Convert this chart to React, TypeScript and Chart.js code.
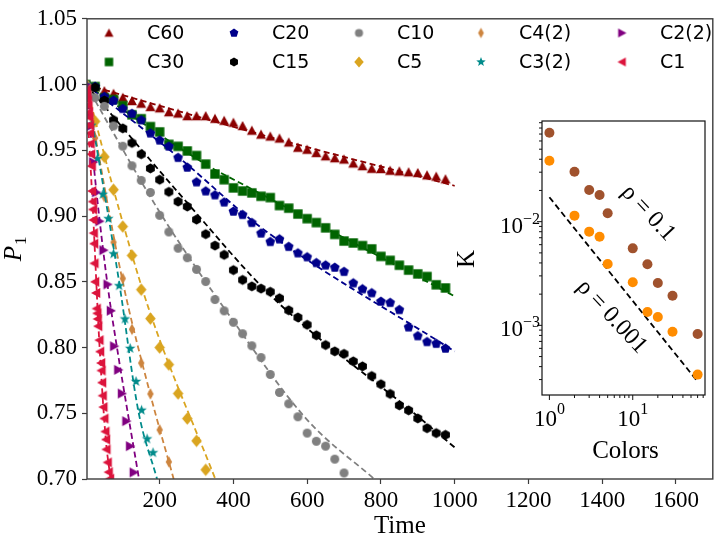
import React, { useEffect, useRef } from 'react';
import { Chart, registerables } from 'chart.js';

Chart.register(...registerables);

const SERIF = '"Liberation Serif", "Times New Roman", "DejaVu Serif", serif';
const SANS = '"DejaVu Sans", "Liberation Sans", sans-serif';

// ---------------- main panel data ----------------
const X_TICKS = [200, 400, 600, 800, 1000, 1200, 1400, 1600];
const Y_TICKS = [0.7, 0.75, 0.8, 0.85, 0.9, 0.95, 1.0, 1.05];

const T_LONG = [0, 25, 50, 75, 100, 125, 150, 175, 200, 225, 250, 275, 300, 325, 350, 375, 400, 425, 450, 475,
  500, 525, 550, 575, 600, 625, 650, 675, 700, 725, 750, 775, 800, 825, 850, 875, 900, 925, 950, 975];

const C60_P = [1.0, 0.998, 0.995, 0.993, 0.99, 0.9875, 0.9855, 0.983, 0.982, 0.979, 0.978, 0.976, 0.976, 0.976, 0.974, 0.9725,
  0.971, 0.9685, 0.965, 0.962, 0.9605, 0.959, 0.956, 0.952, 0.9505, 0.948, 0.9455, 0.944, 0.943, 0.94,
  0.938, 0.936, 0.9358, 0.9345, 0.934, 0.9333, 0.9328, 0.931, 0.93, 0.928];
const C30_P = [1.0, 0.9985, 0.99, 0.9886, 0.984, 0.977, 0.974, 0.968, 0.964, 0.9545, 0.953, 0.9495, 0.946, 0.9395, 0.932,
  0.9276, 0.9214, 0.919, 0.9176, 0.915, 0.914, 0.908, 0.906, 0.9015, 0.898, 0.895, 0.891, 0.886, 0.881, 0.8795,
  0.8775, 0.875, 0.8693, 0.8663, 0.8626, 0.8589, 0.856, 0.854, 0.8477, 0.8453];
const C20_P = [1.0, 0.9985, 0.9908, 0.9879, 0.9816, 0.9779, 0.973, 0.963, 0.9576, 0.953, 0.9444, 0.937, 0.9258, 0.9189, 0.9159,
  0.9105, 0.9035, 0.901, 0.8949, 0.8869, 0.8804, 0.8824, 0.8767, 0.8718, 0.8688, 0.8644, 0.8626, 0.8609, 0.8577, 0.849,
  0.8445, 0.8415, 0.835, 0.8341, 0.8287, 0.8155, 0.8088, 0.8043, 0.803, 0.7993];
const C15_P = [1.0, 0.9978, 0.9879, 0.973, 0.9667, 0.9556, 0.947, 0.9362, 0.9276, 0.9184, 0.911, 0.9072, 0.8973, 0.8862, 0.8775,
  0.8705, 0.8589, 0.8514, 0.8465, 0.8448, 0.8424, 0.8375, 0.8283, 0.8229, 0.8173, 0.8093, 0.8019, 0.7971, 0.7952, 0.7895,
  0.7857, 0.7783, 0.7721, 0.7647, 0.756, 0.7522, 0.7461, 0.7386, 0.7349, 0.7336];
const C10_T = [0, 25, 50, 75, 100, 125, 150, 175, 200, 225, 250, 275, 300, 325, 350, 375, 400, 425, 450, 475,
  500, 525, 550, 575, 600, 625, 650, 675, 700];
const C10_P = [1.0, 0.99, 0.9834, 0.9685, 0.9531, 0.9382, 0.9271, 0.9179, 0.9005, 0.8879, 0.8755, 0.8683, 0.8594, 0.8502, 0.8365,
  0.8279, 0.8192, 0.8105, 0.8013, 0.7924, 0.7795, 0.7658, 0.7572, 0.7473, 0.7349, 0.7287, 0.725, 0.7151, 0.7046];
const C5_T = [0, 25, 50, 75, 100, 125, 150, 175, 200, 225, 250, 275, 300, 325];
const C5_P = [1.0, 0.972, 0.945, 0.92, 0.892, 0.87, 0.844, 0.822, 0.8, 0.787, 0.765, 0.746, 0.729, 0.707];
const C42_T = [0, 25, 50, 75, 100, 125, 150, 175, 200, 225];
const C42_P = [1.0, 0.9593, 0.9147, 0.88, 0.8525, 0.8138, 0.7882, 0.7647, 0.7374, 0.713];
const C32_T = [0, 15, 31, 46, 61, 75, 90, 106, 120, 136, 151, 166, 182];
const C32_P = [1.0, 0.969, 0.9437, 0.9165, 0.898, 0.8713, 0.847, 0.8217, 0.7993, 0.7742, 0.7523, 0.7305, 0.72];
const C22_T = [0, 10, 20, 28, 37, 48, 59, 68, 77, 88, 98, 110, 120, 130];
const C22_P = [1.0, 0.968, 0.941, 0.918, 0.896, 0.874, 0.848, 0.828, 0.801, 0.783, 0.765, 0.744, 0.725, 0.705];
const C1_T = [0, 2, 3.5, 5, 6.5, 8, 9.4, 10.5, 11.3, 12.5, 14, 15.7, 16.7, 18.3, 19, 20.2, 21, 22, 22.9, 24.8,
  27.5, 29.1, 30.5, 31.8, 33, 36.4, 38.3, 41, 42, 43.7, 45.3, 47.2, 49.9, 52.6, 54.4, 55.5, 58.8, 61.5, 65.2];
const C1_P = [1.0, 0.996, 0.992, 0.988, 0.984, 0.979, 0.975, 0.969, 0.963, 0.955, 0.947, 0.938, 0.919, 0.911, 0.905,
  0.897, 0.887, 0.879, 0.864, 0.85, 0.8415, 0.8296, 0.826, 0.8217, 0.8162, 0.8056, 0.7969, 0.7882, 0.7825, 0.7733,
  0.7634, 0.7547, 0.746, 0.7361, 0.73, 0.7225, 0.7126, 0.7052, 0.7002];

// dashed fit curves
const C60_FIT_T = [0, 500, 1000];
const C60_FIT_P = [1.0, 0.96, 0.923];
const C30_FIT_T = [0, 333, 433, 1000];
const C30_FIT_P = [1.0, 0.938, 0.923, 0.839];
const C20_FIT_T = [0, 250, 476, 1000];
const C20_FIT_P = [1.0, 0.945, 0.891, 0.797];
const C15_FIT_T = [0, 275, 503, 890, 1000];
const C15_FIT_P = [1.0, 0.91, 0.839, 0.75, 0.724];
const C10_FIT_T = [0, 200, 400, 600, 782];
const C10_FIT_P = [1.0, 0.903, 0.82, 0.745, 0.7];
const C5_FIT_T = [0, 85, 171, 351];
const C5_FIT_P = [1.0, 0.91, 0.829, 0.7];
const C42_FIT_T = [0, 100, 175, 238];
const C42_FIT_P = [1.0, 0.85, 0.764, 0.7];
const C32_FIT_T = [0, 90, 142, 193];
const C32_FIT_P = [1.0, 0.85, 0.752, 0.7];
const C22_FIT_T = [0, 30, 60, 86, 144];
const C22_FIT_P = [1.0, 0.915, 0.845, 0.797, 0.7];
const C1_FIT_T = [0, 18, 36, 54, 67];
const C1_FIT_P = [1.0, 0.91, 0.806, 0.73, 0.7];

// ---------------- inset data ----------------
const N_COLORS = [1, 2, 3, 4, 5, 10, 15, 20, 30, 60];
const K_RHO_01 = [0.0721, 0.0303, 0.0202, 0.0181, 0.01205, 0.00553, 0.00388, 0.002565, 0.00193, 0.000826];
const K_RHO_0001 = [0.0387, 0.01143, 0.00801, 0.00716, 0.00391, 0.0026, 0.001346, 0.001205, 0.000869, 0.000335];
const GUIDE_N = [1, 59];
const GUIDE_K = [0.0172, 0.000292];
const INSET_X_MAJOR = [1, 10];
const INSET_X_MINOR = [2, 3, 4, 5, 6, 7, 8, 9, 20, 30, 40, 50, 60, 70];
const INSET_Y_MAJOR = [0.001, 0.01];
const INSET_Y_MINOR = [0.0003, 0.0004, 0.0005, 0.0006, 0.0007, 0.0008, 0.0009, 0.002, 0.003, 0.004, 0.005,
  0.006, 0.007, 0.008, 0.009, 0.02, 0.03, 0.04, 0.05, 0.06, 0.07, 0.08, 0.09];
const RHO_LABELS = ['ρ = 0.1', 'ρ = 0.001'];
const RHO_LABEL_N = [15.3, 5.6];
const RHO_LABEL_K = [0.0121, 0.00121];

type Shape = 'triUp' | 'square' | 'pentagon' | 'hexagon' | 'circle' | 'diamond' | 'thinDiamond' | 'star' | 'triRight' | 'triLeft';

const SERIES: { name: string; t: number[]; p: number[]; ft: number[]; fp: number[]; color: string; shape: Shape; r: number }[] = [
  { name: 'C60', t: T_LONG, p: C60_P, ft: C60_FIT_T, fp: C60_FIT_P, color: '#8B0000', shape: 'triUp', r: 5 },
  { name: 'C30', t: T_LONG, p: C30_P, ft: C30_FIT_T, fp: C30_FIT_P, color: '#006400', shape: 'square', r: 4.7 },
  { name: 'C20', t: T_LONG, p: C20_P, ft: C20_FIT_T, fp: C20_FIT_P, color: '#00008B', shape: 'pentagon', r: 5.1 },
  { name: 'C15', t: T_LONG, p: C15_P, ft: C15_FIT_T, fp: C15_FIT_P, color: '#000000', shape: 'hexagon', r: 5.1 },
  { name: 'C10', t: C10_T, p: C10_P, ft: C10_FIT_T, fp: C10_FIT_P, color: '#808080', shape: 'circle', r: 4.5 },
  { name: 'C5', t: C5_T, p: C5_P, ft: C5_FIT_T, fp: C5_FIT_P, color: '#DAA520', shape: 'diamond', r: 6.2 },
  { name: 'C4(2)', t: C42_T, p: C42_P, ft: C42_FIT_T, fp: C42_FIT_P, color: '#CD853F', shape: 'thinDiamond', r: 5.8 },
  { name: 'C3(2)', t: C32_T, p: C32_P, ft: C32_FIT_T, fp: C32_FIT_P, color: '#008B8B', shape: 'star', r: 5.5 },
  { name: 'C2(2)', t: C22_T, p: C22_P, ft: C22_FIT_T, fp: C22_FIT_P, color: '#800080', shape: 'triRight', r: 5 },
  { name: 'C1', t: C1_T, p: C1_P, ft: C1_FIT_T, fp: C1_FIT_P, color: '#DC143C', shape: 'triLeft', r: 5 },
];

function makeMarker(shape: Shape, color: string, r: number): HTMLCanvasElement {
  const size = Math.ceil(r * 2 + 4);
  const c = document.createElement('canvas');
  c.width = size;
  c.height = size;
  const ctx = c.getContext('2d')!;
  ctx.translate(size / 2, size / 2);
  ctx.fillStyle = color;
  ctx.beginPath();
  const poly = (pts: number[][]) => {
    pts.forEach(([x, y], i) => (i ? ctx.lineTo(x, y) : ctx.moveTo(x, y)));
    ctx.closePath();
  };
  const regular = (n: number, rad: number, start: number) => {
    const pts: number[][] = [];
    for (let i = 0; i < n; i++) {
      const a = start + (i * 2 * Math.PI) / n;
      pts.push([rad * Math.cos(a), rad * Math.sin(a)]);
    }
    poly(pts);
  };
  switch (shape) {
    case 'circle':
      ctx.arc(0, 0, r, 0, Math.PI * 2);
      break;
    case 'triUp':
      poly([[0, -r], [r, r * 0.85], [-r, r * 0.85]]);
      break;
    case 'triRight':
      poly([[r, 0], [-r * 0.85, -r], [-r * 0.85, r]]);
      break;
    case 'triLeft':
      poly([[-r, 0], [r * 0.85, -r], [r * 0.85, r]]);
      break;
    case 'square':
      poly([[-r, -r], [r, -r], [r, r], [-r, r]]);
      break;
    case 'pentagon':
      regular(5, r, -Math.PI / 2);
      break;
    case 'hexagon':
      regular(6, r, -Math.PI / 2);
      break;
    case 'diamond':
      poly([[0, -r], [r * 0.85, 0], [0, r], [-r * 0.85, 0]]);
      break;
    case 'thinDiamond':
      poly([[0, -r], [r * 0.55, 0], [0, r], [-r * 0.55, 0]]);
      break;
    case 'star': {
      const pts: number[][] = [];
      for (let i = 0; i < 10; i++) {
        const a = -Math.PI / 2 + (i * Math.PI) / 5;
        const rad = i % 2 === 0 ? r : r * 0.42;
        pts.push([rad * Math.cos(a), rad * Math.sin(a)]);
      }
      poly(pts);
      break;
    }
  }
  ctx.fill();
  return c;
}

const LEGEND_COL_X = [109, 234, 359, 481, 622];
const LEGEND_ROW_Y = [33, 62];

export default function App() {
  const mainRef = useRef<HTMLCanvasElement>(null);
  const insetRef = useRef<HTMLCanvasElement>(null);

  useEffect(() => {
    const markers = SERIES.map((s) => makeMarker(s.shape, s.color, s.r));
    const legendMarkers = SERIES.map((s) => makeMarker(s.shape, s.color, s.r * 0.9));
    const datasets: any[] = [];
    SERIES.forEach((s, i) => {
      datasets.push({
        label: s.name,
        data: s.t.map((t, j) => ({ x: t, y: s.p[j] })),
        pointStyle: markers[i],
        pointRadius: s.r,
        showLine: false,
        clip: 0,
        order: 100 - 2 * i,
      });
      datasets.push({
        label: s.name + ' fit',
        data: s.ft.map((t, j) => ({ x: t, y: s.fp[j] })),
        showLine: true,
        pointRadius: 0,
        borderColor: s.color,
        borderWidth: 1.8,
        borderDash: [6, 3.5],
        cubicInterpolationMode: 'monotone',
        fill: false,
        clip: 0,
        order: 99 - 2 * i,
      });
    });

    const mainDecor = {
      id: 'mainDecor',
      afterDraw(chart: any) {
        const { ctx, chartArea: a } = chart;
        ctx.save();
        ctx.strokeStyle = '#3c3c3c';
        ctx.lineWidth = 1.4;
        ctx.strokeRect(a.left, a.top, a.right - a.left, a.bottom - a.top);
        // legend
        SERIES.forEach((s, i) => {
          const col = Math.floor(i / 2);
          const row = i % 2;
          const mx = LEGEND_COL_X[col];
          const my = LEGEND_ROW_Y[row];
          const m = legendMarkers[i];
          ctx.drawImage(m, mx - m.width / 2, my - m.height / 2);
          ctx.fillStyle = '#000';
          ctx.font = `19px ${SANS}`;
          ctx.textAlign = 'left';
          ctx.textBaseline = 'middle';
          ctx.fillText(s.name, mx + 38, my + 1);
        });
        // x title
        ctx.fillStyle = '#000';
        ctx.font = `25px ${SERIF}`;
        ctx.textAlign = 'center';
        ctx.textBaseline = 'alphabetic';
        ctx.fillText('Time', (a.left + a.right) / 2, 533);
        // y title P_1
        ctx.save();
        ctx.translate(21, (a.top + a.bottom) / 2);
        ctx.rotate(-Math.PI / 2);
        ctx.font = `italic 25px ${SERIF}`;
        const wP = ctx.measureText('P').width;
        ctx.font = `17px ${SERIF}`;
        const w1 = ctx.measureText('1').width;
        const start = -(wP + w1 + 1) / 2;
        ctx.textAlign = 'left';
        ctx.font = `italic 25px ${SERIF}`;
        ctx.fillText('P', start, 0);
        ctx.font = `17px ${SERIF}`;
        ctx.fillText('1', start + wP + 1, 5);
        ctx.restore();
        ctx.restore();
      },
    };

    const tickFont = { family: SERIF, size: 23 };
    const main = new Chart(mainRef.current!, {
      type: 'scatter',
      data: { datasets },
      options: {
        animation: false,
        responsive: false,
        events: [],
        layout: { padding: { left: 0, right: 4, top: 10, bottom: 0 } },
        plugins: { legend: { display: false }, tooltip: { enabled: false } },
        scales: {
          x: {
            type: 'linear',
            min: 3,
            max: 1700,
            afterBuildTicks: (sc: any) => {
              sc.ticks = X_TICKS.map((v) => ({ value: v }));
            },
            afterFit: (sc: any) => {
              sc.height = 60;
            },
            ticks: {
              font: tickFont,
              color: '#000',
              padding: 3,
              maxRotation: 0,
              autoSkip: false,
              callback: (v: any) => String(Math.round(Number(v))),
            },
            grid: { display: true, drawOnChartArea: false, drawTicks: true, tickLength: 5, tickColor: '#3c3c3c', tickWidth: 1.2 },
            border: { display: false },
          },
          y: {
            type: 'linear',
            min: 0.7,
            max: 1.05,
            afterBuildTicks: (sc: any) => {
              sc.ticks = Y_TICKS.map((v) => ({ value: v }));
            },
            afterFit: (sc: any) => {
              sc.width = 87;
            },
            ticks: {
              font: tickFont,
              color: '#000',
              padding: 5,
              autoSkip: false,
              callback: (v: any) => Number(v).toFixed(2),
            },
            grid: { display: true, drawOnChartArea: false, drawTicks: true, tickLength: 5, tickColor: '#3c3c3c', tickWidth: 1.2 },
            border: { display: false },
          },
        },
      },
      plugins: [mainDecor],
    } as any);

    // ---------------- inset ----------------
    const drawPow = (ctx: CanvasRenderingContext2D, x: number, base: number, exp: string, align: 'right' | 'center', supRaise: number) => {
      ctx.font = `23px ${SERIF}`;
      const w1 = ctx.measureText('10').width;
      ctx.font = `16px ${SERIF}`;
      const w2 = ctx.measureText(exp).width;
      const total = w1 + w2;
      const sx = align === 'right' ? x - total : x - total / 2;
      ctx.textAlign = 'left';
      ctx.textBaseline = 'alphabetic';
      ctx.font = `23px ${SERIF}`;
      ctx.fillText('10', sx, base);
      ctx.font = `16px ${SERIF}`;
      ctx.fillText(exp, sx + w1, base - supRaise);
    };

    const insetDecor = {
      id: 'insetDecor',
      beforeDatasetsDraw(chart: any) {
        const { ctx, chartArea: a } = chart;
        ctx.save();
        ctx.fillStyle = '#fff';
        ctx.fillRect(a.left, a.top, a.right - a.left, a.bottom - a.top);
        ctx.restore();
      },
      afterDraw(chart: any) {
        const { ctx, chartArea: a, scales } = chart;
        const xs = scales.x;
        const ys = scales.y;
        ctx.save();
        ctx.strokeStyle = '#111';
        ctx.lineWidth = 1.2;
        ctx.strokeRect(a.left, a.top, a.right - a.left, a.bottom - a.top);
        ctx.lineWidth = 1;
        ctx.beginPath();
        INSET_X_MAJOR.forEach((v) => {
          const px = xs.getPixelForValue(v);
          ctx.moveTo(px, a.bottom);
          ctx.lineTo(px, a.bottom + 5);
        });
        INSET_X_MINOR.forEach((v) => {
          const px = xs.getPixelForValue(v);
          if (px < a.left || px > a.right) return;
          ctx.moveTo(px, a.bottom);
          ctx.lineTo(px, a.bottom + 3);
        });
        INSET_Y_MAJOR.forEach((v) => {
          const py = ys.getPixelForValue(v);
          ctx.moveTo(a.left, py);
          ctx.lineTo(a.left - 5, py);
        });
        INSET_Y_MINOR.forEach((v) => {
          const py = ys.getPixelForValue(v);
          if (py < a.top || py > a.bottom) return;
          ctx.moveTo(a.left, py);
          ctx.lineTo(a.left - 3, py);
        });
        ctx.stroke();
        ctx.fillStyle = '#000';
        INSET_X_MAJOR.forEach((v) => {
          drawPow(ctx, xs.getPixelForValue(v), a.bottom + 31, String(Math.round(Math.log10(v))), 'center', 12);
        });
        INSET_Y_MAJOR.forEach((v) => {
          const e = Math.round(Math.log10(v));
          drawPow(ctx, a.left - 2, ys.getPixelForValue(v) + 11, '\u2212' + String(-e), 'right', 9);
        });
        ctx.font = `25px ${SERIF}`;
        ctx.textAlign = 'center';
        ctx.textBaseline = 'middle';
        ctx.fillText('Colors', (a.left + a.right) / 2 + 2, a.bottom + 56);
        ctx.save();
        ctx.translate(27, (a.top + a.bottom) / 2 + 1);
        ctx.rotate(-Math.PI / 2);
        ctx.fillText('K', 0, 0);
        ctx.restore();
        RHO_LABELS.forEach((txt, i) => {
          ctx.save();
          ctx.translate(xs.getPixelForValue(RHO_LABEL_N[i]), ys.getPixelForValue(RHO_LABEL_K[i]));
          ctx.rotate((47 * Math.PI) / 180);
          ctx.font = `24px ${SERIF}`;
          ctx.textAlign = 'center';
          ctx.textBaseline = 'middle';
          ctx.fillText(txt, 0, 0);
          ctx.restore();
        });
        ctx.restore();
      },
    };

    const inset = new Chart(insetRef.current!, {
      type: 'scatter',
      data: {
        datasets: [
          {
            label: 'rho 0.1',
            data: N_COLORS.map((n, j) => ({ x: n, y: K_RHO_01[j] })),
            backgroundColor: '#A0522D',
            borderWidth: 0,
            pointRadius: 5,
            pointStyle: 'circle',
            clip: 6,
          },
          {
            label: 'rho 0.001',
            data: N_COLORS.map((n, j) => ({ x: n, y: K_RHO_0001[j] })),
            backgroundColor: '#FF8C00',
            borderWidth: 0,
            pointRadius: 5,
            pointStyle: 'circle',
            clip: 6,
          },
          {
            label: 'guide',
            data: GUIDE_N.map((n, j) => ({ x: n, y: GUIDE_K[j] })),
            showLine: true,
            pointRadius: 0,
            borderColor: '#000',
            borderWidth: 1.8,
            borderDash: [6, 3.5],
            clip: 0,
          },
        ],
      },
      options: {
        animation: false,
        responsive: false,
        events: [],
        layout: { padding: { left: 102, right: 15, top: 21, bottom: 75 } },
        plugins: { legend: { display: false }, tooltip: { enabled: false } },
        scales: {
          x: { type: 'logarithmic', min: 0.815, max: 73.6, display: false },
          y: { type: 'logarithmic', min: 0.000213, max: 0.0935, display: false },
        },
      },
      plugins: [insetDecor],
    } as any);

    return () => {
      main.destroy();
      inset.destroy();
    };
  }, []);

  return (
    <div style={{ position: 'absolute', left: 0, top: 0, width: 720, height: 539, background: '#fff' }}>
      <canvas ref={mainRef} width={720} height={539} style={{ position: 'absolute', left: 0, top: 0 }} />
      <canvas ref={insetRef} width={280} height={370} style={{ position: 'absolute', left: 440, top: 100 }} />
    </div>
  );
}
